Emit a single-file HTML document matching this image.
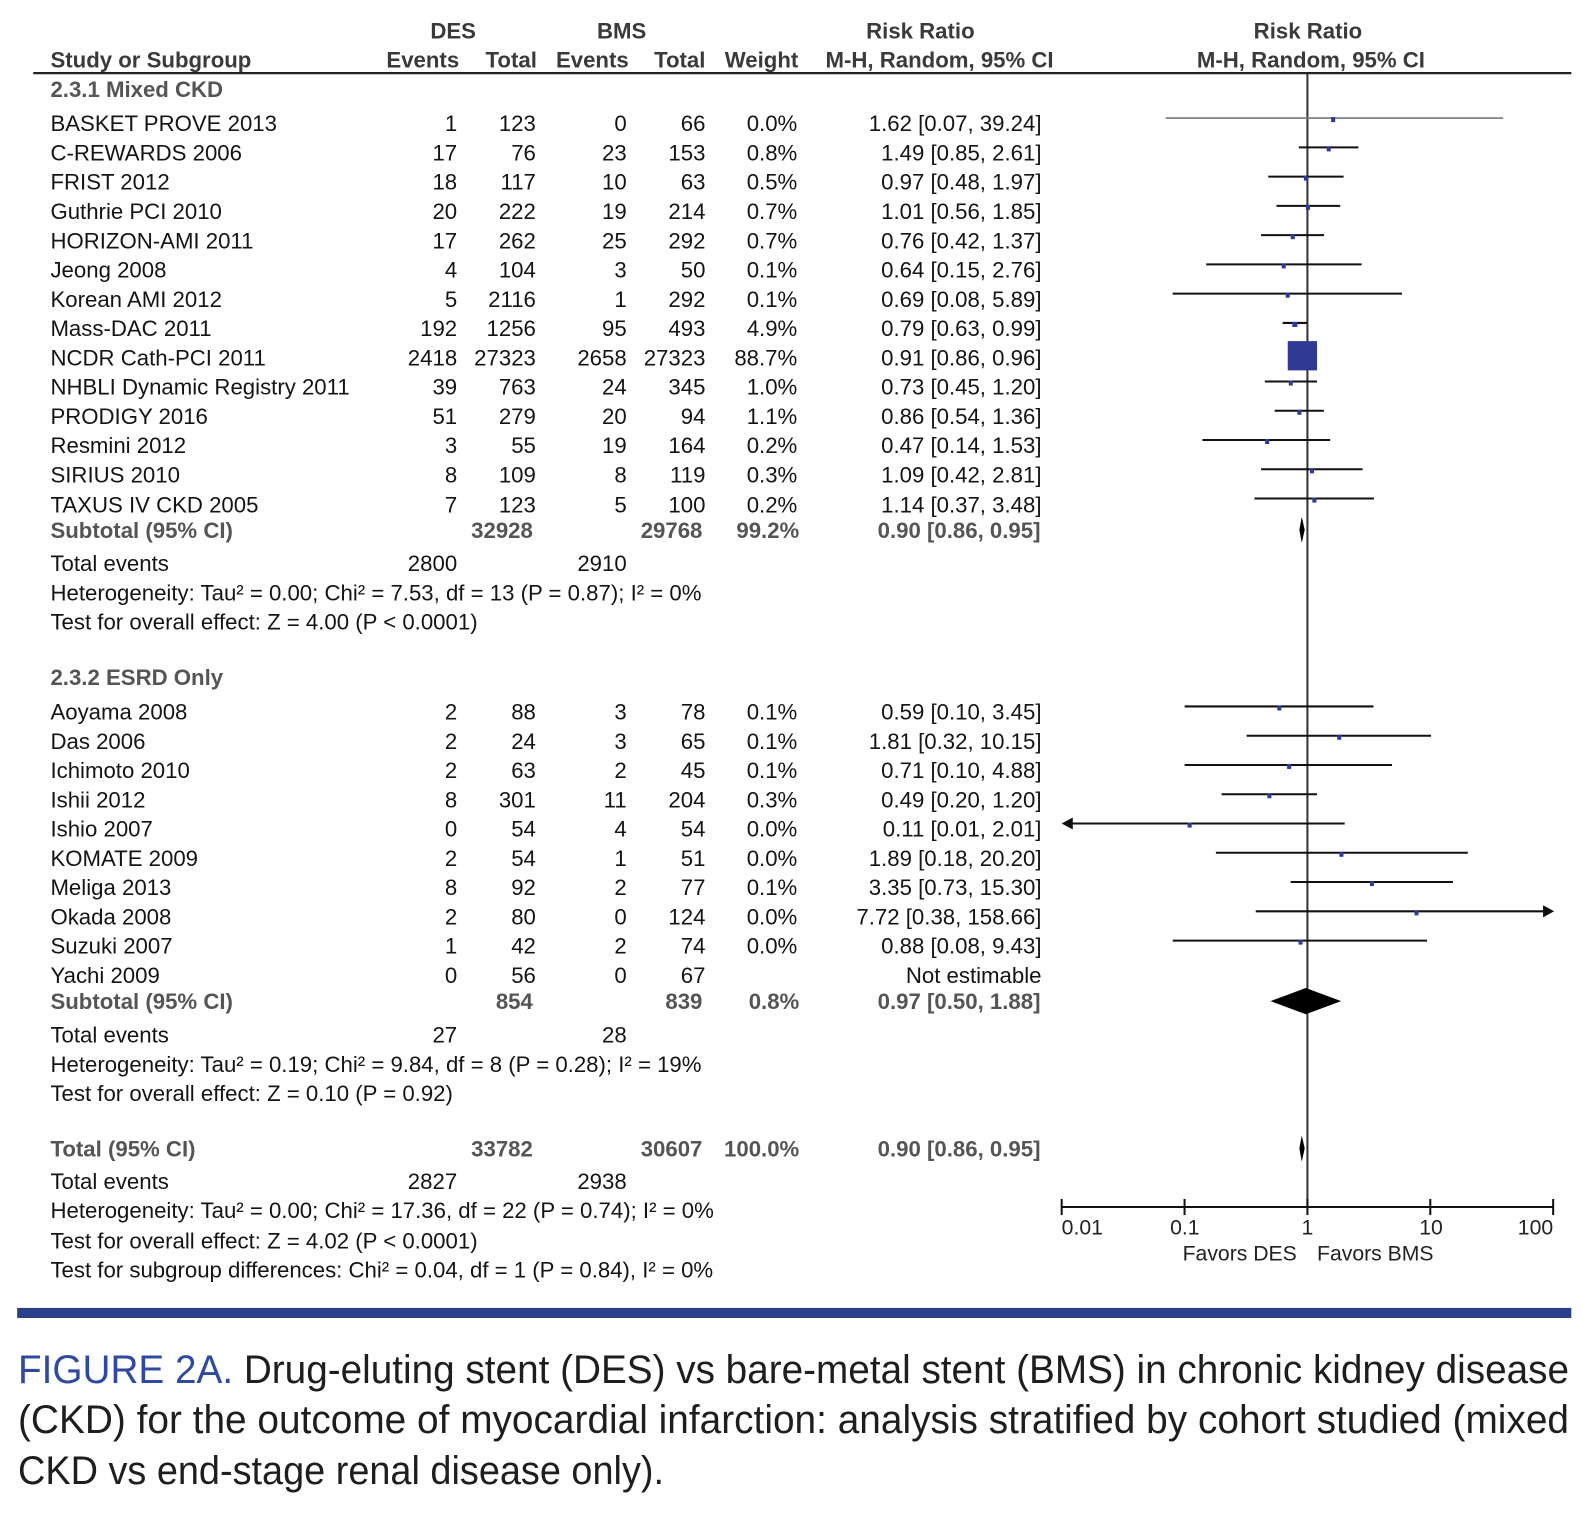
<!DOCTYPE html>
<html><head><meta charset="utf-8"><style>
html,body{margin:0;padding:0;background:#fff;}
svg{display:block;}
text{font-family:"Liberation Sans",Arial,sans-serif;}
.r{font-size:22px;fill:#141414;}
.n{font-size:22px;fill:#141414;text-anchor:end;}
.h{font-size:22px;fill:#3a3a3a;font-weight:bold;}
.hc{font-size:22px;fill:#3a3a3a;font-weight:bold;text-anchor:middle;}
.he{font-size:22px;fill:#3a3a3a;font-weight:bold;text-anchor:end;}
.g{font-size:22px;fill:#555;font-weight:bold;}
.ge{font-size:22px;fill:#555;font-weight:bold;text-anchor:end;}
.ax{font-size:21px;fill:#222;}
.cap{font-size:40px;fill:#1e1e1e;font-family:"Liberation Sans Narrow","Liberation Sans",Arial,sans-serif;}
</style></head><body>
<svg width="1582" height="1526" viewBox="0 0 1582 1526" xmlns="http://www.w3.org/2000/svg">
<rect width="1582" height="1526" fill="#fff"/>
<g transform="scale(1.0092)">
<!-- headers -->
<text class="hc" x="449" y="38">DES</text>
<text class="hc" x="616" y="38">BMS</text>
<text class="hc" x="912" y="38">Risk Ratio</text>
<text class="hc" x="1296" y="38">Risk Ratio</text>
<text class="h" x="50" y="67">Study or Subgroup</text>
<text class="he" x="455" y="67">Events</text>
<text class="he" x="532" y="67">Total</text>
<text class="he" x="623" y="67">Events</text>
<text class="he" x="699" y="67">Total</text>
<text class="he" x="791" y="67">Weight</text>
<text class="h" x="818" y="67">M-H, Random, 95% CI</text>
<text class="hc" x="1299" y="67">M-H, Random, 95% CI</text>
<line x1="33" y1="72.5" x2="1557" y2="72.5" stroke="#222" stroke-width="2.2"/>

<text class="g" x="50" y="96">2.3.1 Mixed CKD</text>

<!-- Mixed rows -->
<g>
<text class="r" x="50" y="130">BASKET PROVE 2013</text><text class="n" x="453" y="130">1</text><text class="n" x="531" y="130">123</text><text class="n" x="621" y="130">0</text><text class="n" x="699" y="130">66</text><text class="n" x="790" y="130">0.0%</text><text class="n" x="1032" y="130">1.62 [0.07, 39.24]</text>
<text class="r" x="50" y="159">C-REWARDS 2006</text><text class="n" x="453" y="159">17</text><text class="n" x="531" y="159">76</text><text class="n" x="621" y="159">23</text><text class="n" x="699" y="159">153</text><text class="n" x="790" y="159">0.8%</text><text class="n" x="1032" y="159">1.49 [0.85, 2.61]</text>
<text class="r" x="50" y="188">FRIST 2012</text><text class="n" x="453" y="188">18</text><text class="n" x="531" y="188">117</text><text class="n" x="621" y="188">10</text><text class="n" x="699" y="188">63</text><text class="n" x="790" y="188">0.5%</text><text class="n" x="1032" y="188">0.97 [0.48, 1.97]</text>
<text class="r" x="50" y="217">Guthrie PCI 2010</text><text class="n" x="453" y="217">20</text><text class="n" x="531" y="217">222</text><text class="n" x="621" y="217">19</text><text class="n" x="699" y="217">214</text><text class="n" x="790" y="217">0.7%</text><text class="n" x="1032" y="217">1.01 [0.56, 1.85]</text>
<text class="r" x="50" y="246">HORIZON-AMI 2011</text><text class="n" x="453" y="246">17</text><text class="n" x="531" y="246">262</text><text class="n" x="621" y="246">25</text><text class="n" x="699" y="246">292</text><text class="n" x="790" y="246">0.7%</text><text class="n" x="1032" y="246">0.76 [0.42, 1.37]</text>
<text class="r" x="50" y="275">Jeong 2008</text><text class="n" x="453" y="275">4</text><text class="n" x="531" y="275">104</text><text class="n" x="621" y="275">3</text><text class="n" x="699" y="275">50</text><text class="n" x="790" y="275">0.1%</text><text class="n" x="1032" y="275">0.64 [0.15, 2.76]</text>
<text class="r" x="50" y="304">Korean AMI 2012</text><text class="n" x="453" y="304">5</text><text class="n" x="531" y="304">2116</text><text class="n" x="621" y="304">1</text><text class="n" x="699" y="304">292</text><text class="n" x="790" y="304">0.1%</text><text class="n" x="1032" y="304">0.69 [0.08, 5.89]</text>
<text class="r" x="50" y="333">Mass-DAC 2011</text><text class="n" x="453" y="333">192</text><text class="n" x="531" y="333">1256</text><text class="n" x="621" y="333">95</text><text class="n" x="699" y="333">493</text><text class="n" x="790" y="333">4.9%</text><text class="n" x="1032" y="333">0.79 [0.63, 0.99]</text>
<text class="r" x="50" y="362">NCDR Cath-PCI 2011</text><text class="n" x="453" y="362">2418</text><text class="n" x="531" y="362">27323</text><text class="n" x="621" y="362">2658</text><text class="n" x="699" y="362">27323</text><text class="n" x="790" y="362">88.7%</text><text class="n" x="1032" y="362">0.91 [0.86, 0.96]</text>
<text class="r" x="50" y="391">NHBLI Dynamic Registry 2011</text><text class="n" x="453" y="391">39</text><text class="n" x="531" y="391">763</text><text class="n" x="621" y="391">24</text><text class="n" x="699" y="391">345</text><text class="n" x="790" y="391">1.0%</text><text class="n" x="1032" y="391">0.73 [0.45, 1.20]</text>
<text class="r" x="50" y="420">PRODIGY 2016</text><text class="n" x="453" y="420">51</text><text class="n" x="531" y="420">279</text><text class="n" x="621" y="420">20</text><text class="n" x="699" y="420">94</text><text class="n" x="790" y="420">1.1%</text><text class="n" x="1032" y="420">0.86 [0.54, 1.36]</text>
<text class="r" x="50" y="449">Resmini 2012</text><text class="n" x="453" y="449">3</text><text class="n" x="531" y="449">55</text><text class="n" x="621" y="449">19</text><text class="n" x="699" y="449">164</text><text class="n" x="790" y="449">0.2%</text><text class="n" x="1032" y="449">0.47 [0.14, 1.53]</text>
<text class="r" x="50" y="478">SIRIUS 2010</text><text class="n" x="453" y="478">8</text><text class="n" x="531" y="478">109</text><text class="n" x="621" y="478">8</text><text class="n" x="699" y="478">119</text><text class="n" x="790" y="478">0.3%</text><text class="n" x="1032" y="478">1.09 [0.42, 2.81]</text>
<text class="r" x="50" y="508">TAXUS IV CKD 2005</text><text class="n" x="453" y="508">7</text><text class="n" x="531" y="508">123</text><text class="n" x="621" y="508">5</text><text class="n" x="699" y="508">100</text><text class="n" x="790" y="508">0.2%</text><text class="n" x="1032" y="508">1.14 [0.37, 3.48]</text>
</g>
<text class="g" x="50" y="533">Subtotal (95% CI)</text><text class="ge" x="528" y="533">32928</text><text class="ge" x="696" y="533">29768</text><text class="ge" x="792" y="533">99.2%</text><text class="ge" x="1031" y="533">0.90 [0.86, 0.95]</text>
<text class="r" x="50" y="566">Total events</text><text class="n" x="453" y="566">2800</text><text class="n" x="621" y="566">2910</text>
<text class="r" x="50" y="595">Heterogeneity: Tau² = 0.00; Chi² = 7.53, df = 13 (P = 0.87); I² = 0%</text>
<text class="r" x="50" y="624">Test for overall effect: Z = 4.00 (P &lt; 0.0001)</text>

<text class="g" x="50" y="679">2.3.2 ESRD Only</text>
<g>
<text class="r" x="50" y="713">Aoyama 2008</text><text class="n" x="453" y="713">2</text><text class="n" x="531" y="713">88</text><text class="n" x="621" y="713">3</text><text class="n" x="699" y="713">78</text><text class="n" x="790" y="713">0.1%</text><text class="n" x="1032" y="713">0.59 [0.10, 3.45]</text>
<text class="r" x="50" y="742">Das 2006</text><text class="n" x="453" y="742">2</text><text class="n" x="531" y="742">24</text><text class="n" x="621" y="742">3</text><text class="n" x="699" y="742">65</text><text class="n" x="790" y="742">0.1%</text><text class="n" x="1032" y="742">1.81 [0.32, 10.15]</text>
<text class="r" x="50" y="771">Ichimoto 2010</text><text class="n" x="453" y="771">2</text><text class="n" x="531" y="771">63</text><text class="n" x="621" y="771">2</text><text class="n" x="699" y="771">45</text><text class="n" x="790" y="771">0.1%</text><text class="n" x="1032" y="771">0.71 [0.10, 4.88]</text>
<text class="r" x="50" y="800">Ishii 2012</text><text class="n" x="453" y="800">8</text><text class="n" x="531" y="800">301</text><text class="n" x="621" y="800">11</text><text class="n" x="699" y="800">204</text><text class="n" x="790" y="800">0.3%</text><text class="n" x="1032" y="800">0.49 [0.20, 1.20]</text>
<text class="r" x="50" y="829">Ishio 2007</text><text class="n" x="453" y="829">0</text><text class="n" x="531" y="829">54</text><text class="n" x="621" y="829">4</text><text class="n" x="699" y="829">54</text><text class="n" x="790" y="829">0.0%</text><text class="n" x="1032" y="829">0.11 [0.01, 2.01]</text>
<text class="r" x="50" y="858">KOMATE 2009</text><text class="n" x="453" y="858">2</text><text class="n" x="531" y="858">54</text><text class="n" x="621" y="858">1</text><text class="n" x="699" y="858">51</text><text class="n" x="790" y="858">0.0%</text><text class="n" x="1032" y="858">1.89 [0.18, 20.20]</text>
<text class="r" x="50" y="887">Meliga 2013</text><text class="n" x="453" y="887">8</text><text class="n" x="531" y="887">92</text><text class="n" x="621" y="887">2</text><text class="n" x="699" y="887">77</text><text class="n" x="790" y="887">0.1%</text><text class="n" x="1032" y="887">3.35 [0.73, 15.30]</text>
<text class="r" x="50" y="916">Okada 2008</text><text class="n" x="453" y="916">2</text><text class="n" x="531" y="916">80</text><text class="n" x="621" y="916">0</text><text class="n" x="699" y="916">124</text><text class="n" x="790" y="916">0.0%</text><text class="n" x="1032" y="916">7.72 [0.38, 158.66]</text>
<text class="r" x="50" y="945">Suzuki 2007</text><text class="n" x="453" y="945">1</text><text class="n" x="531" y="945">42</text><text class="n" x="621" y="945">2</text><text class="n" x="699" y="945">74</text><text class="n" x="790" y="945">0.0%</text><text class="n" x="1032" y="945">0.88 [0.08, 9.43]</text>
<text class="r" x="50" y="974">Yachi 2009</text><text class="n" x="453" y="974">0</text><text class="n" x="531" y="974">56</text><text class="n" x="621" y="974">0</text><text class="n" x="699" y="974">67</text><text class="n" x="1032" y="974">Not estimable</text>
</g>
<text class="g" x="50" y="1000">Subtotal (95% CI)</text><text class="ge" x="528" y="1000">854</text><text class="ge" x="696" y="1000">839</text><text class="ge" x="792" y="1000">0.8%</text><text class="ge" x="1031" y="1000">0.97 [0.50, 1.88]</text>
<text class="r" x="50" y="1033">Total events</text><text class="n" x="453" y="1033">27</text><text class="n" x="621" y="1033">28</text>
<text class="r" x="50" y="1062">Heterogeneity: Tau² = 0.19; Chi² = 9.84, df = 8 (P = 0.28); I² = 19%</text>
<text class="r" x="50" y="1091">Test for overall effect: Z = 0.10 (P = 0.92)</text>

<text class="g" x="50" y="1146">Total (95% CI)</text><text class="ge" x="528" y="1146">33782</text><text class="ge" x="696" y="1146">30607</text><text class="ge" x="792" y="1146">100.0%</text><text class="ge" x="1031" y="1146">0.90 [0.86, 0.95]</text>
<text class="r" x="50" y="1178">Total events</text><text class="n" x="453" y="1178">2827</text><text class="n" x="621" y="1178">2938</text>
<text class="r" x="50" y="1207">Heterogeneity: Tau² = 0.00; Chi² = 17.36, df = 22 (P = 0.74); I² = 0%</text>
<text class="r" x="50" y="1237">Test for overall effect: Z = 4.02 (P &lt; 0.0001)</text>
<text class="r" x="50" y="1266">Test for subgroup differences: Chi² = 0.04, df = 1 (P = 0.84), I² = 0%</text>

<!-- forest plot -->
<line x1="1295.5" y1="73" x2="1295.5" y2="1196" stroke="#333" stroke-width="2"/>
<g stroke="#111" stroke-width="2">
<line x1="1155" y1="117" x2="1489.5" y2="117" stroke="#7a7a7a" stroke-width="1.6"/>
<line x1="1287" y1="146" x2="1346" y2="146"/>
<line x1="1256.7" y1="175" x2="1331.4" y2="175"/>
<line x1="1264.8" y1="204" x2="1328" y2="204"/>
<line x1="1249.6" y1="233" x2="1312" y2="233"/>
<line x1="1195.2" y1="262" x2="1349.2" y2="262"/>
<line x1="1162" y1="291" x2="1389.3" y2="291"/>
<line x1="1271" y1="320" x2="1295" y2="320"/>
<line x1="1253.3" y1="378" x2="1305" y2="378"/>
<line x1="1263" y1="407" x2="1311.8" y2="407"/>
<line x1="1191.5" y1="436" x2="1318" y2="436"/>
<line x1="1249.6" y1="465" x2="1350.1" y2="465"/>
<line x1="1243" y1="494" x2="1361.4" y2="494"/>

<line x1="1173.8" y1="700" x2="1361" y2="700"/>
<line x1="1235.2" y1="729" x2="1418" y2="729"/>
<line x1="1173.8" y1="758" x2="1379.3" y2="758"/>
<line x1="1210.4" y1="787" x2="1305" y2="787"/>
<line x1="1060" y1="816" x2="1332.4" y2="816"/>
<line x1="1204.8" y1="845" x2="1454.4" y2="845"/>
<line x1="1278.9" y1="874" x2="1439.7" y2="874"/>
<line x1="1244.3" y1="903" x2="1530" y2="903"/>
<line x1="1162" y1="932" x2="1414" y2="932"/>
</g>
<polygon points="1052,816 1063,810 1063,822" fill="#111"/>
<polygon points="1540,903 1529,897 1529,909" fill="#111"/>
<g fill="#2e3a96">
<rect x="1319" y="116" width="4" height="5"/>
<rect x="1314.6" y="145" width="4" height="5"/>
<rect x="1292" y="174" width="4" height="5"/>
<rect x="1294" y="203" width="4" height="5"/>
<rect x="1279" y="232" width="4" height="5"/>
<rect x="1270" y="261" width="4" height="5"/>
<rect x="1274" y="290" width="4" height="5"/>
<rect x="1280.5" y="319" width="5" height="5"/>
<rect x="1276" y="338" width="29" height="29"/>
<rect x="1277" y="377" width="4" height="5"/>
<rect x="1285.5" y="406" width="4" height="5"/>
<rect x="1253.6" y="435" width="4" height="5"/>
<rect x="1298" y="464" width="4" height="5"/>
<rect x="1300.4" y="493" width="4" height="5"/>

<rect x="1265.6" y="699" width="4" height="5"/>
<rect x="1325" y="728" width="4" height="5"/>
<rect x="1275.4" y="757" width="4" height="5"/>
<rect x="1255.8" y="786" width="4" height="5"/>
<rect x="1176.8" y="815" width="4" height="5"/>
<rect x="1327.2" y="844" width="4" height="5"/>
<rect x="1357.4" y="873" width="4" height="5"/>
<rect x="1401.6" y="902" width="4" height="5"/>
<rect x="1286.7" y="931" width="4" height="5"/>
</g>
<g fill="#000">
<polygon points="1287.5,525 1289.9,512 1292.8,525 1289.9,538"/>
<polygon points="1258.9,992 1293.9,979 1328.9,992 1293.9,1005"/>
<polygon points="1287.5,1138 1289.9,1125 1292.8,1138 1289.9,1151"/>
</g>
<!-- axis -->
<g stroke="#111" stroke-width="2">
<line x1="1052" y1="1196" x2="1539" y2="1196"/>
<line x1="1052" y1="1188" x2="1052" y2="1204"/>
<line x1="1173.75" y1="1188" x2="1173.75" y2="1204"/>
<line x1="1295.5" y1="1188" x2="1295.5" y2="1204"/>
<line x1="1417.25" y1="1188" x2="1417.25" y2="1204"/>
<line x1="1539" y1="1188" x2="1539" y2="1204"/>
</g>
<text class="ax" x="1052" y="1223">0.01</text>
<text class="ax" x="1174" y="1223" text-anchor="middle">0.1</text>
<text class="ax" x="1295.5" y="1223" text-anchor="middle">1</text>
<text class="ax" x="1418" y="1223" text-anchor="middle">10</text>
<text class="ax" x="1539" y="1223" text-anchor="end">100</text>
<text class="ax" x="1285" y="1249" text-anchor="end" fill="#333">Favors DES</text>
<text class="ax" x="1305" y="1249" fill="#333">Favors BMS</text>

<!-- bottom bar -->
<rect x="17" y="1296" width="1540" height="10" fill="#2c3f8a"/>
</g>
<!-- caption -->
<text class="cap" x="18" y="1383" textLength="1551" lengthAdjust="spacingAndGlyphs"><tspan fill="#2f4a9e">FIGURE 2A.</tspan> Drug-eluting stent (DES) vs bare-metal stent (BMS) in chronic kidney disease</text>
<text class="cap" x="18" y="1433" textLength="1551" lengthAdjust="spacingAndGlyphs">(CKD) for the outcome of myocardial infarction: analysis stratified by cohort studied (mixed</text>
<text class="cap" x="18" y="1484" textLength="646" lengthAdjust="spacingAndGlyphs">CKD vs end-stage renal disease only).</text>
</svg>
</body></html>
